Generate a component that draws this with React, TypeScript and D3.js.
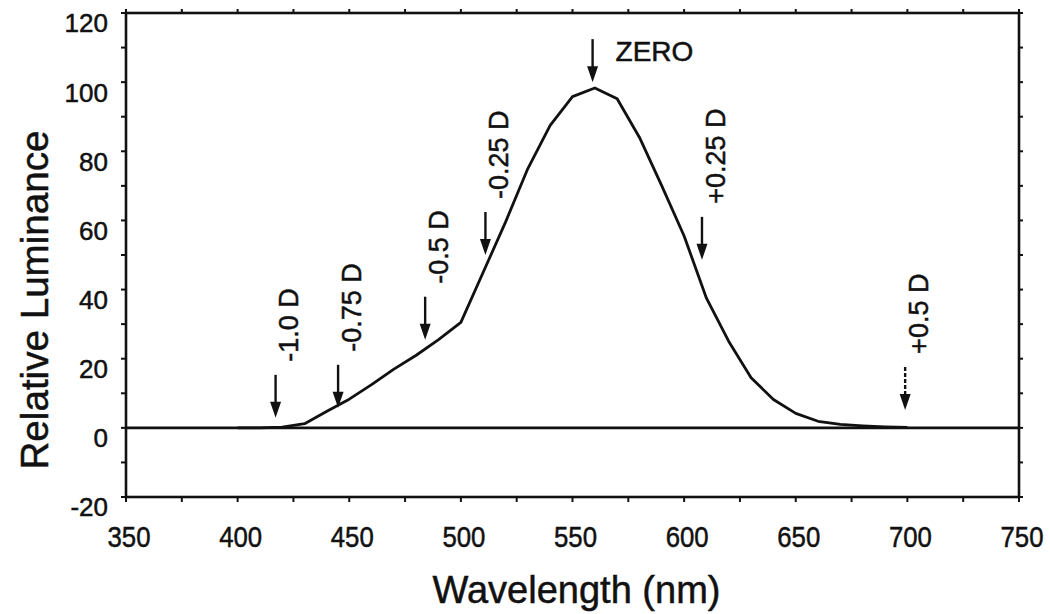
import * as d3 from 'd3';

// luminance curve at 10 nm steps
const wavelengths = [400, 410, 420, 430, 440, 450, 460, 470, 480, 490, 500, 510, 520, 530, 540, 550, 560, 570, 580, 590, 600, 610, 620, 630, 640, 650, 660, 670, 680, 690, 700];
const luminance = [0, 0, 0.2, 1.2, 4.8, 8.3, 12.5, 17, 21, 25.5, 30.5, 45, 59.5, 75, 87.5, 95.8, 98.3, 95.2, 84, 70, 55.5, 37.5, 25, 14.5, 8.2, 4.2, 1.9, 1, 0.6, 0.3, 0.1];

// defocus markers (arrow position in nm, arrow tip in luminance units)
const markerNm = [417, 445, 484, 511, 559, 608, 699];
const markerTip = [2.9, 5.8, 25.5, 50, 100, 48.6, 5.2];
const markerLabels = ['-1.0 D', '-0.75 D', '-0.5 D', '-0.25 D', 'ZERO', '+0.25 D', '+0.5 D'];

const xTicks = [350, 400, 450, 500, 550, 600, 650, 700, 750];
const xMinor = d3.range(350, 751, 25);
const yTicks = [-20, 0, 20, 40, 60, 80, 100, 120];
const yMinor = d3.range(-20, 121, 10);

const width = 1050;
const height = 614;
const margin = { top: 13, right: 31, bottom: 117, left: 126 };
const font = '"Liberation Sans", Arial, Helvetica, sans-serif';
const ink = '#111';

const App = () => {
  const x = d3.scaleLinear().domain([350, 750]).range([margin.left, width - margin.right]);
  const y = d3.scaleLinear().domain([-20, 120]).range([height - margin.bottom, margin.top]);

  const line = d3.line<number>()
    .x((d, i) => x(wavelengths[i]))
    .y(d => y(d))
    .curve(d3.curveLinear);

  const [x0, x1] = x.range();
  const [yb, yt] = y.range();
  const arrowLen = 43; // px, tip to tail
  const head = 16;

  // scanned print looks heavier than a plain regular face
  const textInk = { fill: ink, stroke: ink, strokeWidth: 0.5 };

  return (
    <svg width={width} height={height} style={{ position: 'absolute', left: 0, top: 0, background: '#fff' }}>
      {/* frame */}
      <rect x={x0} y={yt} width={x1 - x0} height={yb - yt} fill="none" stroke={ink} strokeWidth={2.6} />
      {/* zero line */}
      <line x1={x0} x2={x1} y1={y(0)} y2={y(0)} stroke={ink} strokeWidth={2.6} />

      {/* ticks on all four sides */}
      {xMinor.map(t => (
        <g key={'xt' + t}>
          <line x1={x(t)} x2={x(t)} y1={yb} y2={yb + 5} stroke={ink} strokeWidth={2} />
          <line x1={x(t)} x2={x(t)} y1={yt} y2={yt - 4} stroke={ink} strokeWidth={2} />
        </g>
      ))}
      {yMinor.map(t => (
        <g key={'yt' + t}>
          <line x1={x0} x2={x0 - 5} y1={y(t)} y2={y(t)} stroke={ink} strokeWidth={2} />
          <line x1={x1} x2={x1 + 4} y1={y(t)} y2={y(t)} stroke={ink} strokeWidth={2} />
        </g>
      ))}

      {/* tick labels */}
      {yTicks.map(t => (
        <text key={'yl' + t} x={108} y={y(t) + 10} dy="0.36em" textAnchor="end"
          fontFamily={font} fontSize={26} {...textInk}>{t}</text>
      ))}
      {xTicks.map(t => (
        <text key={'xl' + t} x={x(t) + 3} y={547} textAnchor="middle"
          fontFamily={font} fontSize={30} {...textInk}
          textLength={43} lengthAdjust="spacingAndGlyphs">{t}</text>
      ))}

      {/* axis titles */}
      <text transform={`translate(48, ${(yt + yb) / 2 + 45}) rotate(-90)`} textAnchor="middle"
        fontFamily={font} fontSize={39} {...textInk} textLength={339} lengthAdjust="spacingAndGlyphs">
        Relative Luminance
      </text>
      <text x={(x0 + x1) / 2 + 4} y={603} textAnchor="middle"
        fontFamily={font} fontSize={38} {...textInk}>
        Wavelength (nm)
      </text>

      {/* curve */}
      <path d={line(luminance) ?? ''} fill="none" stroke={ink} strokeWidth={2.8} strokeLinejoin="round" />

      {/* markers */}
      {markerNm.map((nm, i) => {
        const ax = x(nm);
        const tip = y(markerTip[i]);
        const tail = tip - arrowLen;
        const label = markerLabels[i];
        return (
          <g key={label}>
            <line x1={ax} x2={ax} y1={tail} y2={tip - head + 2} stroke={ink} strokeWidth={2.4}
              strokeDasharray={label === '+0.5 D' ? '4 2' : undefined} />
            <path d={`M${ax - 5.5},${tip - head} L${ax + 5.5},${tip - head} L${ax},${tip} Z`} fill={ink} />
            {label === 'ZERO' ? (
              <text x={ax + 23} y={tail + 22} fontFamily={font} fontSize={28} {...textInk}>{label}</text>
            ) : (
              <text transform={`translate(${ax + 13}, ${tail - 13}) rotate(-90)`} dy="0.36em"
                fontFamily={font} fontSize={27} {...textInk}>{label}</text>
            )}
          </g>
        );
      })}
    </svg>
  );
};

export default App;
